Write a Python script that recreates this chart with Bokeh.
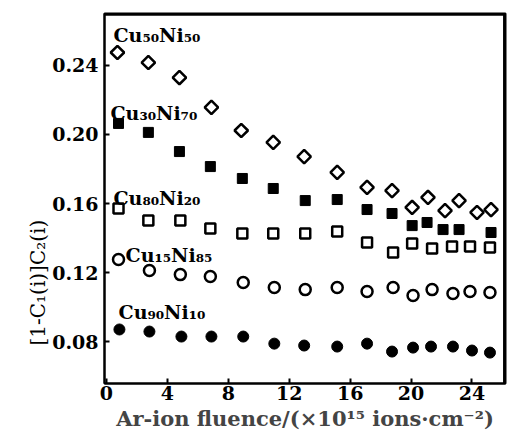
import math
from bokeh.plotting import figure
from bokeh.models import Range1d, FixedTicker, PrintfTickFormatter, Label, Title
from bokeh.embed import file_html
from bokeh.resources import INLINE

# ---- data ----
x_cu50 = [0.72, 2.75, 4.79, 6.89, 8.85, 10.95, 12.98, 15.15, 17.11, 18.75, 20.07, 21.11, 22.23, 23.15, 24.33, 25.25]
y_cu50 = [0.2475, 0.2417, 0.233, 0.2157, 0.2023, 0.1954, 0.1872, 0.178, 0.1693, 0.1675, 0.1577, 0.1635, 0.1559, 0.1617, 0.1548, 0.1565]

x_cu30 = [0.79, 2.75, 4.79, 6.82, 8.92, 10.95, 13.05, 15.15, 17.11, 18.75, 20.07, 21.05, 22.1, 23.15, 25.25]
y_cu30 = [0.2064, 0.2012, 0.1901, 0.1814, 0.1745, 0.1687, 0.1617, 0.1623, 0.1565, 0.1542, 0.1472, 0.149, 0.1449, 0.1449, 0.1432]

x_cu80 = [0.79, 2.75, 4.85, 6.82, 8.92, 10.95, 13.05, 15.15, 17.11, 18.82, 20.07, 21.38, 22.69, 23.87, 25.18]
y_cu80 = [0.1571, 0.1501, 0.1501, 0.1455, 0.1426, 0.1426, 0.1426, 0.1438, 0.1374, 0.1316, 0.1368, 0.1339, 0.1351, 0.1351, 0.1345]

x_cu15 = [0.79, 2.82, 4.85, 6.82, 8.98, 11.02, 13.05, 15.15, 17.11, 18.82, 20.13, 21.38, 22.75, 23.87, 25.18]
y_cu15 = [0.1275, 0.1212, 0.1188, 0.1177, 0.1142, 0.1113, 0.1101, 0.1113, 0.109, 0.1113, 0.1067, 0.1101, 0.1078, 0.109, 0.1084]

x_cu90 = [0.85, 2.82, 4.92, 6.89, 8.98, 11.02, 12.98, 15.15, 17.11, 18.75, 20.13, 21.31, 22.75, 24.0, 25.18]
y_cu90 = [0.087, 0.0858, 0.0829, 0.0829, 0.0829, 0.0788, 0.0777, 0.0771, 0.0788, 0.0742, 0.0765, 0.0771, 0.0771, 0.0748, 0.0736]

series_names = ["Cu₅₀Ni₅₀", "Cu₃₀Ni₇₀", "Cu₈₀Ni₂₀", "Cu₁₅Ni₈₅", "Cu₉₀Ni₁₀"]
label_x = [0.46, 0.26, 0.46, 1.25, 0.79]
label_y = [0.2578, 0.2124, 0.1630, 0.1300, 0.0970]

x_ticks = [0, 4, 8, 12, 16, 20, 24]
y_ticks = [0.08, 0.12, 0.16, 0.20, 0.24]

x_title = "Ar-ion fluence/(×10¹⁵ ions·cm⁻²)"
y_title = "[1-C₁(i)]C₂(i)"

SERIF = "DejaVu Serif"

x_min, x_max = -0.13, 26.2
y_min, y_max = 0.0557, 0.2701

p = figure(frame_width=401, frame_height=370,
           x_range=Range1d(x_min, x_max), y_range=Range1d(y_min, y_max),
           output_backend="svg", toolbar_location=None,
           min_border_left=104, min_border_right=4, min_border_top=13, min_border_bottom=50)
p.grid.visible = False
p.background_fill_color = "white"
p.border_fill_color = "white"
p.outline_line_color = "black"
p.outline_line_width = 2

for ax in (p.xaxis[0], p.yaxis[0]):
    ax.axis_line_width = 2
    ax.major_tick_line_width = 2
    ax.major_tick_in = 5
    ax.major_tick_out = 0
    ax.minor_tick_line_color = None
    ax.major_label_text_font = SERIF
    ax.major_label_text_font_style = "bold"
    ax.major_label_text_font_size = "19px"
    ax.major_label_text_color = "black"

p.xaxis.ticker = FixedTicker(ticks=x_ticks)
p.yaxis.ticker = FixedTicker(ticks=y_ticks)
p.yaxis.formatter = PrintfTickFormatter(format="%.2f")
p.xaxis.major_label_standoff = 2
p.yaxis.major_label_standoff = 6

p.xaxis.axis_label = x_title
p.xaxis.axis_label_text_font = SERIF
p.xaxis.axis_label_text_font_style = "bold"
p.xaxis.axis_label_text_font_size = "21px"
p.xaxis.axis_label_standoff = 3

# top and right edges of the frame box (derived from the axis ranges)
y_edge = y_max - (y_max - y_min) * 0.003
x_edge = x_max - (x_max - x_min) * 0.003
p.line([x_min, x_max], [y_edge, y_edge], line_color="black", line_width=2.5)
p.line([x_edge, x_edge], [y_min, y_max], line_color="black", line_width=2.5)

# y title as a left-side title
p.add_layout(Title(text=y_title, align="left", offset=38, text_font=SERIF,
                   text_font_size="20px", text_font_style="normal", text_color="black",
                   standoff=0), "left")

# markers
p.scatter(x_cu50, y_cu50, marker="square", size=9.5, angle=math.pi / 4,
          fill_color="white", line_color="black", line_width=2.5)
p.scatter(x_cu30, y_cu30, marker="square", size=10,
          fill_color="black", line_color="black", line_width=1)
p.scatter(x_cu80, y_cu80, marker="square", size=10,
          fill_color="white", line_color="black", line_width=2.5)
p.scatter(x_cu15, y_cu15, marker="circle", size=11,
          fill_color="white", line_color="black", line_width=2.5)
p.scatter(x_cu90, y_cu90, marker="circle", size=11,
          fill_color="black", line_color="black", line_width=1)

for name, lx, ly in zip(series_names, label_x, label_y):
    p.add_layout(Label(x=lx, y=ly, text=name, text_font=SERIF, text_font_style="bold",
                       text_font_size="19px", text_color="black",
                       text_align="left", text_baseline="alphabetic"))

open("out.html", "w").write(file_html(p, INLINE))
